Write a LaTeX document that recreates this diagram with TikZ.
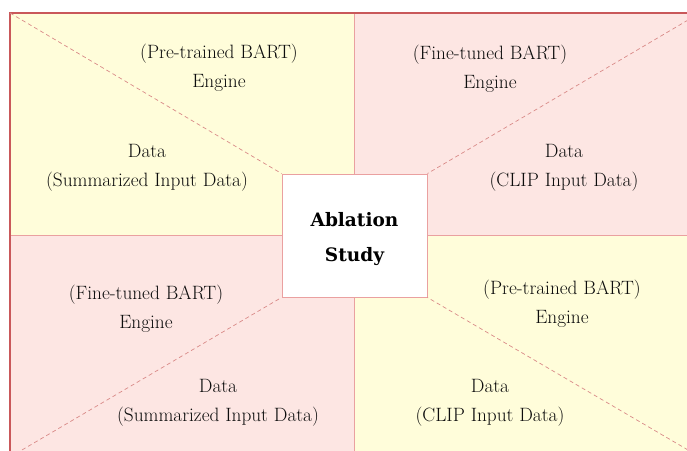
\documentclass[tikz,border=0pt]{standalone}
\usepackage{fontspec}
\newfontfamily\boxfont{DejaVu Serif}
\definecolor{yel}{HTML}{FFFDDA}
\definecolor{pnk}{HTML}{FDE6E3}
\definecolor{outerc}{HTML}{C9585A}
\definecolor{innerc}{HTML}{EAA0A0}
\definecolor{dashc}{HTML}{D98A88}
\tikzset{
  outerline/.style={draw=outerc, line width=1.1pt},
  innerline/.style={draw=innerc, line width=0.9pt},
  dline/.style={draw=dashc, line width=0.7pt, dash pattern=on 4pt off 3pt},
  abox/.style={draw=innerc, line width=1pt, fill=white, minimum width=145pt, minimum height=123pt, align=center, inner sep=0pt, font=\boxfont\bfseries\fontsize{18.5}{35}\selectfont},
  lbl/.style={align=center, inner sep=0pt, font=\fontsize{19.3}{29}\selectfont, text=black!95}
}
\begin{document}
\begin{tikzpicture}[x=1pt,y=-1pt]
\useasboundingbox (0,0) rectangle (687,450);
\clip (0,0) rectangle (687,450);
\coordinate (TL) at (10,13);
\coordinate (TR) at (700,13);
\coordinate (BL) at (10,457);
\coordinate (BR) at (700,457);
\coordinate (C) at (354.5,235.5);
\coordinate (MT) at (354.5,13);
\coordinate (MB) at (354.5,457);
\coordinate (ML) at (10,235.5);
\coordinate (MR) at (700,235.5);
\fill[yel] (TL) rectangle (C);
\fill[pnk] (MT) rectangle (MR);
\fill[pnk] (ML) rectangle (MB);
\fill[yel] (C) rectangle (BR);
\draw[innerline] (MT) -- (MB);
\draw[innerline] (ML) -- (MR);
\draw[outerline] (TL) rectangle (BR);
\node[abox] (box) at (C) {\rule{0pt}{21pt}Ablation\\ Study};
\draw[dline] (TL) -- (box.north west);
\draw[dline] (TR) -- (box.north east);
\draw[dline] (BL) -- (box.south west);
\draw[dline] (BR) -- (box.south east);
\node[lbl] (tl1) at (219,67.5) {(Pre-trained BART)\\ Engine};
\node[lbl] (tl2) at (147,167.5) {Data\\ (Summarized Input Data)};
\node[lbl] (tr1) at (490,68.5) {(Fine-tuned BART)\\ Engine};
\node[lbl] (tr2) at (564,167.5) {Data\\ (CLIP Input Data)};
\node[lbl] (bl1) at (146,309) {(Fine-tuned BART)\\ Engine};
\node[lbl] (bl2) at (218,403) {Data\\ (Summarized Input Data)};
\node[lbl] (br1) at (562,304) {(Pre-trained BART)\\ Engine};
\node[lbl] (br2) at (490,403) {Data\\ (CLIP Input Data)};
\end{tikzpicture}
\end{document}
